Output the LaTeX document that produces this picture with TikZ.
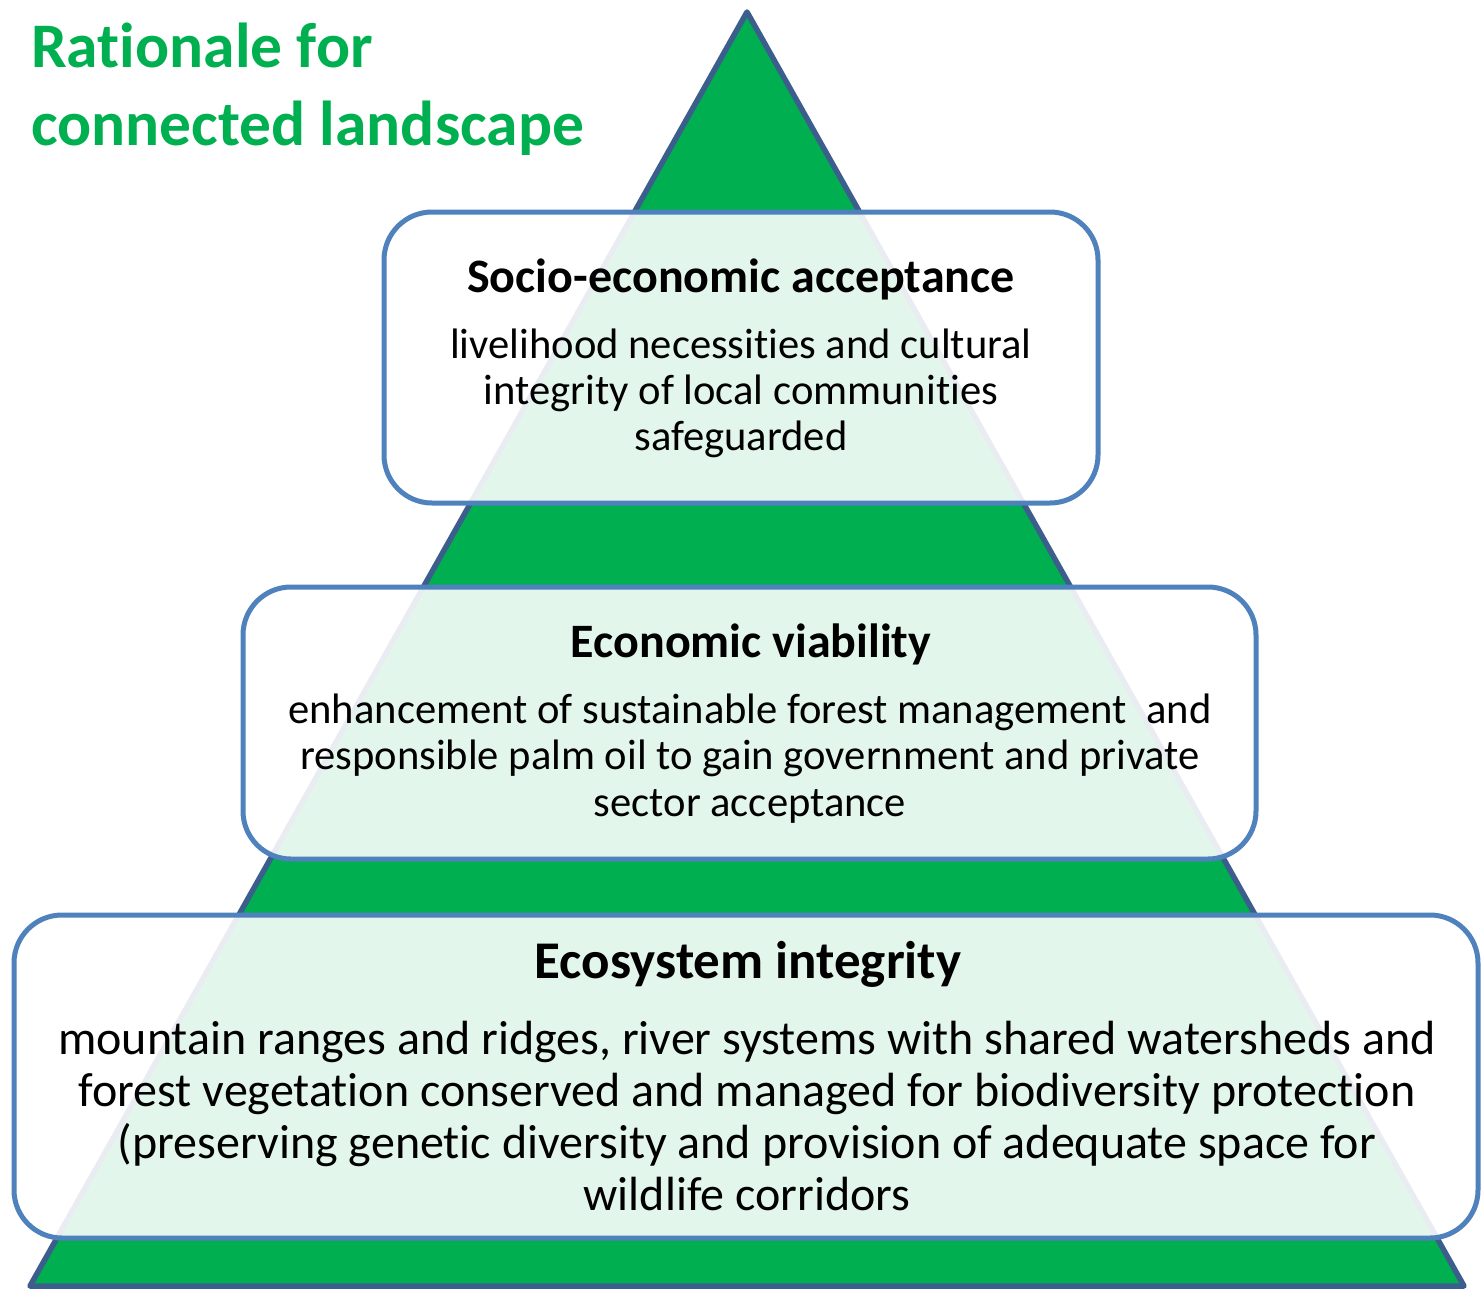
\documentclass[tikz,border=0pt]{standalone}
\usepackage{fontspec}
\setmainfont[Ligatures={NoCommon,NoContextual}]{Carlito}
\definecolor{tgreen}{HTML}{00B050}
\definecolor{tedge}{HTML}{3C5E8C}
\definecolor{bedge}{HTML}{4F81BD}
\begin{document}
\begin{tikzpicture}[x=1pt,y=-1pt,
  box/.style={draw=bedge, line width=5pt, rounded corners=48pt, fill=white,
    fill opacity=0.89, draw opacity=1, text opacity=1, inner sep=0pt, rectangle},
  title/.style={font=\bfseries\fontsize{63.5}{77}\selectfont, text=tgreen, inner sep=0pt, anchor=base west},
  headA/.style={font=\bfseries\fontsize{48}{52}\selectfont, inner sep=0pt, anchor=base},
  headB/.style={font=\bfseries\fontsize{53}{57}\selectfont, inner sep=0pt, anchor=base},
  bodyA/.style={font=\fontsize{42.6}{46}\selectfont, inner sep=0pt, anchor=base},
  bodyB/.style={font=\fontsize{48}{52}\selectfont, inner sep=0pt, anchor=base}]
\useasboundingbox (0,0) rectangle (1481,1290);
% pyramid
\draw[draw=tedge, fill=tgreen, line width=5.5pt, line join=round]
  (747,12) -- (1464,1286) -- (30,1286) -- cycle;
% title
\node[title] (ti1) at (31,68) {Rationale for};
\node[title] (ti2) at (31,145) {connected landscape};
% boxes
\node[box, minimum width=714pt, minimum height=291pt] (b1) at (741,357.5) {};
\node[box, minimum width=1013pt, minimum height=272pt] (b2) at (749.5,723) {};
\node[box, minimum width=1464pt, minimum height=323pt] (b3) at (746,1076.5) {};
% box 1 text
\node[headA] (h1) at (741,292) {Socio-economic acceptance};
\node[bodyA] (t1a) at (741,358) {livelihood necessities and cultural};
\node[bodyA] (t1b) at (741,404) {integrity of local communities};
\node[bodyA] (t1c) at (741,450) {safeguarded};
% box 2 text
\node[headA] (h2) at (751,657) {Economic viability};
\node[bodyA] (t2a) at (750,723) {enhancement of sustainable forest management~ and};
\node[bodyA] (t2b) at (750,769) {responsible palm oil to gain government and private};
\node[bodyA] (t2c) at (750,816) {sector acceptance};
% box 3 text
\node[headB] (h3) at (748,978) {Ecosystem integrity};
\node[bodyB] (t3a) at (747,1054) {mountain ranges and ridges, river systems with shared watersheds and};
\node[bodyB] (t3b) at (747,1106) {forest vegetation conserved and managed for biodiversity protection};
\node[bodyB] (t3c) at (747,1158) {(preserving genetic diversity and provision of adequate space for};
\node[bodyB] (t3d) at (747,1210) {wildlife corridors};
\end{tikzpicture}
\end{document}
